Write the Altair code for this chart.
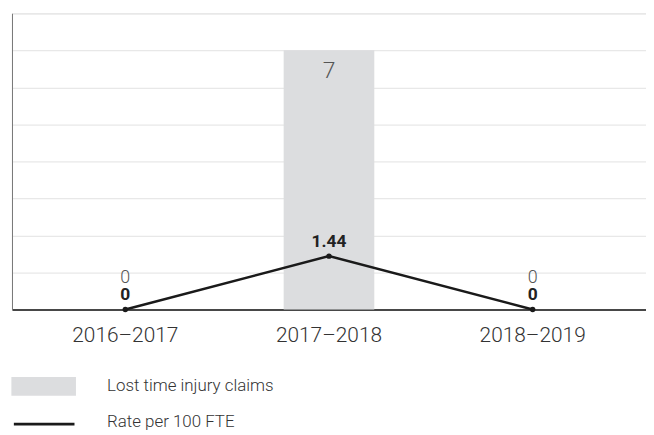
import altair as alt
import pandas as pd

years = ["2016–2017", "2017–2018", "2018–2019"]
claims = [0, 7, 0]
rate = [0, 1.44, 0]
rate_labels = ["0", "1.44", "0"]

df = pd.DataFrame({
    "year": years,
    "claims": claims,
    "rate": rate,
    "rate_label": rate_labels,
    "bar_series": ["Lost time injury claims"] * 3,
    "line_series": ["Rate per 100 FTE"] * 3,
})

FONT = "Roboto"

x_axis = alt.Axis(title=None, labelAngle=0, ticks=False, domainColor="#111111",
                  domainWidth=1.5, labelFontSize=21, labelFont=FONT, labelFontWeight=300,
                  labelColor="#333333", labelPadding=15, grid=False)
x_scale = alt.Scale(paddingInner=0.555, paddingOuter=0.334)
y_scale = alt.Scale(domain=[0, 8], nice=False)
y_axis = alt.Axis(title=None, labels=False, ticks=False, values=list(range(9)),
                  gridColor="#e8e8e8", gridWidth=1.2, domainColor="#777777", grid=True)


def X():
    return alt.X("year:N", sort=years, scale=x_scale, axis=x_axis)


def Y(field):
    return alt.Y(field, scale=y_scale, axis=y_axis)


base = alt.Chart(df)

bars = base.mark_bar().encode(
    x=X(),
    y=Y("claims:Q"),
    fill=alt.Fill(
        "bar_series:N", title=None,
        scale=alt.Scale(range=["#dcdddf"]),
        legend=alt.Legend(orient="none", legendX=23.4, legendY=367,
                          symbolType="M-4,-1.16H4V1.16H-4Z", symbolSize=264,
                          symbolStrokeWidth=0, labelFont=FONT, labelFontSize=17,
                          labelFontWeight=300, labelColor="#333333", labelOffset=55.3,
                          labelLimit=400),
    ),
)

claim_text_pos = base.transform_filter("datum.claims > 0").mark_text(
    dy=28, fontSize=23, font=FONT, fontWeight=300, color="#555555", baseline="alphabetic"
).encode(x=X(), y=Y("claims:Q"), text=alt.Text("claims:Q"))

claim_text_zero = base.transform_filter("datum.claims == 0").mark_text(
    dy=-27, fontSize=18, font=FONT, fontWeight=300, color="#555555", baseline="alphabetic"
).encode(x=X(), y=Y("claims:Q"), text=alt.Text("claims:Q"))

line = base.mark_line(strokeWidth=2.5).encode(
    x=X(),
    y=Y("rate:Q"),
    stroke=alt.Stroke(
        "line_series:N", title=None,
        scale=alt.Scale(range=["#1a1a1a"]),
        legend=alt.Legend(orient="none", legendX=22.9, legendY=402,
                          symbolType="M-4,0.25H4", symbolSize=232.6, symbolStrokeWidth=3,
                          labelFont=FONT, labelFontSize=17, labelFontWeight=300,
                          labelColor="#333333", labelOffset=53.8, labelLimit=400),
    ),
)

points = base.mark_circle(size=30, color="#1a1a1a", opacity=1).encode(
    x=X(),
    y=Y("rate:Q"),
)

rate_text = base.mark_text(
    dy=-9, fontSize=17.5, font=FONT, fontWeight="bold", color="#222222", baseline="alphabetic"
).encode(x=X(), y=Y("rate:Q"), text="rate_label:N")

chart = alt.layer(
    bars, claim_text_pos, claim_text_zero, line, points, rate_text
).resolve_scale(
    fill="independent", stroke="independent"
).properties(
    width=638, height=298,
    padding={"left": 4, "top": 4, "right": 0, "bottom": 0},
).configure_view(stroke=None).configure(font=FONT)

chart.save("out.html", embed_options={"renderer": "svg", "actions": False})
